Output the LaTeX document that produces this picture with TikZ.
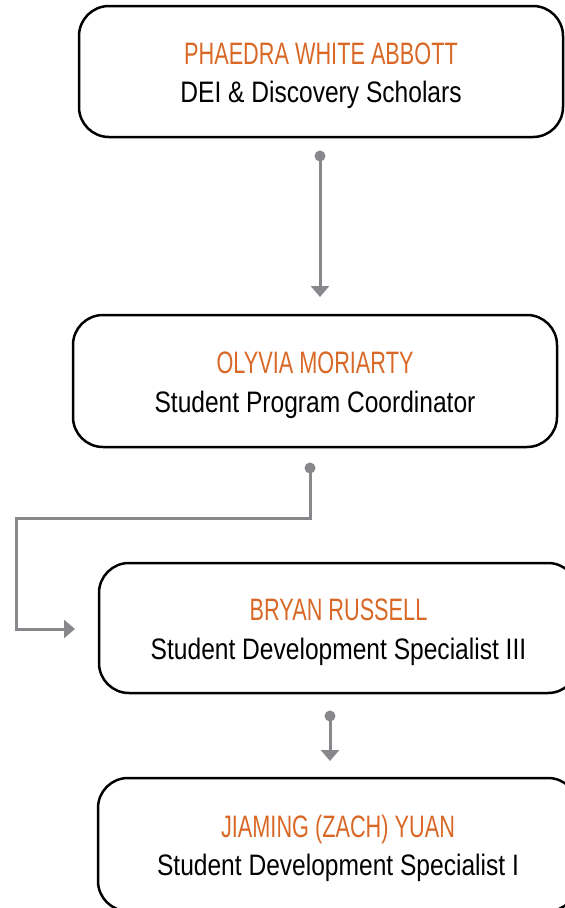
\documentclass[tikz,border=0pt]{standalone}
\usepackage{fontspec}
\setmainfont{Liberation Sans}
\newfontfamily\namefont[FakeStretch=0.70]{Liberation Sans}
\newfontfamily\titlefont[FakeStretch=0.83]{Liberation Sans}
\usetikzlibrary{arrows.meta,calc}
\definecolor{nameorange}{RGB}{217,104,38}
\definecolor{linkgray}{RGB}{136,136,140}
\begin{document}
\begin{tikzpicture}[x=1pt,y=-1pt,
 box/.style={draw=black, line width=2.5pt, rounded corners=30pt, inner sep=0pt},
 nm/.style={anchor=base, font=\namefont\fontsize{31}{31}\selectfont, text=nameorange, inner sep=0pt},
 ttl/.style={anchor=base, font=\titlefont\fontsize{29.6}{30}\selectfont, text=black, inner sep=0pt},
 link/.style={draw=linkgray, line width=3pt, -{Triangle[width=18pt,length=11pt]}},
 dotfill/.style={fill=linkgray}]
\useasboundingbox (0,0) rectangle (565,908);
% boxes
\node[box, minimum width=484pt, minimum height=131pt] (b1) at (321,71.5) {};
\node[box, minimum width=484pt, minimum height=132pt] (b2) at (315,381) {};
\node[box, minimum width=479pt, minimum height=130pt] (b3) at (338.5,628) {};
\node[box, minimum width=480pt, minimum height=133pt] (b4) at (338,844.5) {};
% texts
\node[nm]  (n1) at ($(b1.center)+(0,-7.5)$) {PHAEDRA WHITE ABBOTT};
\node[ttl] (t1) at ($(b1.center)+(0,31)$) {DEI \& Discovery Scholars};
\node[nm]  (n2) at ($(b2.center)+(0,-7.5)$) {OLYVIA MORIARTY};
\node[ttl] (t2) at ($(b2.center)+(0,31)$) {Student Program Coordinator};
\node[nm]  (n3) at ($(b3.center)+(0,-7.5)$) {BRYAN RUSSELL};
\node[ttl] (t3) at ($(b3.center)+(0,31)$) {Student Development Specialist III};
\node[nm]  (n4) at ($(b4.center)+(0,-7.5)$) {JIAMING (ZACH) YUAN};
\node[ttl] (t4) at ($(b4.center)+(0,31)$) {Student Development Specialist I};
% connectors
\coordinate (d1) at (320,156);
\coordinate (e1) at (320,297);
\draw[link] (d1) -- (e1);
\fill[dotfill] (d1) circle (5.5pt);
\coordinate (d2) at (310,468);
\coordinate (k2) at (16,518);
\coordinate (e2) at (75,629);
\draw[link] (d2) |- (k2) |- (e2);
\fill[dotfill] (d2) circle (5.5pt);
\coordinate (d3) at (330,716);
\coordinate (e3) at (330,761);
\draw[link] (d3) -- (e3);
\fill[dotfill] (d3) circle (5.5pt);
\end{tikzpicture}
\end{document}
